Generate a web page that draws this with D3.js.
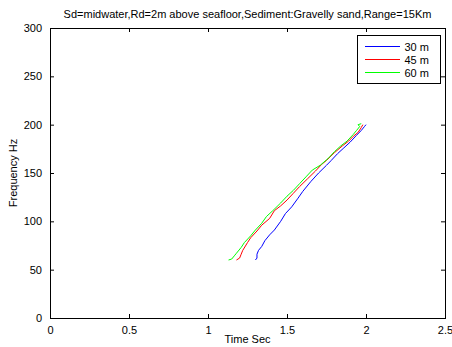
<!DOCTYPE html>
<html>
<head>
<meta charset="utf-8">
<script src="https://cdn.jsdelivr.net/npm/d3@7"></script>
<style>
  body { margin: 0; background: #fff; }
  svg { display: block; font-family: "Liberation Sans", Arial, sans-serif; }
</style>
</head>
<body>
<svg id="svg" width="452" height="347"></svg>
<script>
const title = 'Sd=midwater,Rd=2m above seafloor,Sediment:Gravelly sand,Range=15Km'
const xTicks = [0, 0.5, 1, 1.5, 2, 2.5]
const yTicks = [0, 50, 100, 150, 200, 250, 300]
const seriesNames = ['30 m', '45 m', '60 m']
const seriesColours = ['#0000ff', '#ff0000', '#00ff00']

// time (s), frequency (Hz)
const blue = [
  [1.30, 60], [1.31, 62], [1.31, 66], [1.32, 70], [1.34, 74], [1.36, 80],
  [1.39, 86], [1.42, 91], [1.46, 100], [1.49, 108], [1.53, 115], [1.57, 124],
  [1.60, 131], [1.65, 141], [1.70, 150], [1.75, 158], [1.78, 163], [1.82, 170],
  [1.86, 176], [1.90, 182], [1.94, 189], [1.97, 194], [1.99, 198], [2.00, 200]
]
const red = [
  [1.18, 60], [1.20, 62], [1.21, 66], [1.22, 70], [1.25, 78], [1.27, 83],
  [1.31, 90], [1.34, 96], [1.39, 103], [1.42, 111], [1.46, 116], [1.50, 122],
  [1.54, 129], [1.58, 136], [1.63, 144], [1.68, 152], [1.72, 159], [1.75, 163],
  [1.80, 171], [1.85, 178], [1.89, 183], [1.92, 188], [1.95, 192], [1.97, 197],
  [1.98, 200]
]
const green = [
  [1.13, 60], [1.15, 61], [1.17, 65], [1.18, 67], [1.21, 73], [1.23, 78],
  [1.27, 85], [1.30, 91], [1.34, 98], [1.37, 105], [1.41, 111], [1.46, 119],
  [1.50, 126], [1.54, 132], [1.58, 139], [1.62, 146], [1.66, 153], [1.71, 158],
  [1.76, 165], [1.80, 172], [1.84, 178], [1.88, 183], [1.92, 190], [1.94, 194],
  [1.96, 198], [1.95, 200], [1.97, 201]
]
const seriesData = [blue, red, green]

const margin = { left: 50, right: 7, top: 28, bottom: 29 }
const width = 452
const height = 347
const plotW = width - margin.left - margin.right
const plotH = height - margin.top - margin.bottom

const x = d3.scaleLinear().domain([0, 2.5]).range([margin.left, margin.left + plotW])
const y = d3.scaleLinear().domain([0, 300]).range([margin.top + plotH, margin.top])

const svg = d3.select('#svg')
const tickLen = 4
const fmt = d3.format('~g')

// box
svg.append('rect')
  .attr('x', x(0) + 0.5).attr('y', y(300) + 0.5)
  .attr('width', x(2.5) - x(0)).attr('height', y(0) - y(300))
  .attr('fill', 'none').attr('stroke', '#000').attr('stroke-width', 1)
  .attr('shape-rendering', 'crispEdges')

// inward ticks on all sides
const xAxisB = d3.axisBottom(x).tickValues(xTicks).tickSizeInner(-tickLen).tickSizeOuter(0).tickPadding(8).tickFormat(fmt)
const xAxisT = d3.axisTop(x).tickValues(xTicks).tickSizeInner(-tickLen).tickSizeOuter(0).tickFormat('')
const yAxisL = d3.axisLeft(y).tickValues(yTicks).tickSizeInner(-tickLen).tickSizeOuter(0).tickPadding(8).tickFormat(fmt)
const yAxisR = d3.axisRight(y).tickValues(yTicks).tickSizeInner(-tickLen).tickSizeOuter(0).tickFormat('')

const styleAxis = g => {
  g.select('.domain').remove()
  g.selectAll('line').attr('stroke', '#000')
  g.selectAll('text').attr('fill', '#000').style('font-size', '11px')
    .style('font-family', '"Liberation Sans", Arial, sans-serif')
}

svg.append('g').attr('transform', `translate(0,${y(0)})`).call(xAxisB).call(styleAxis)
svg.append('g').attr('transform', `translate(0,${y(300)})`).call(xAxisT).call(styleAxis)
svg.append('g').attr('transform', `translate(${x(0)},0)`).call(yAxisL).call(styleAxis)
svg.append('g').attr('transform', `translate(${x(2.5)},0)`).call(yAxisR).call(styleAxis)

// lines
const line = d3.line().x(d => x(d[0])).y(d => y(d[1]))
svg.selectAll('path.series')
  .data(seriesData)
  .join('path')
  .attr('class', 'series')
  .attr('d', line)
  .attr('fill', 'none')
  .attr('stroke', (d, i) => seriesColours[i])
  .attr('stroke-width', 1)

// title and labels
svg.append('text')
  .attr('x', (x(0) + x(2.5)) / 2).attr('y', 18)
  .attr('text-anchor', 'middle')
  .style('font-size', '11px')
  .text(title)

svg.append('text')
  .attr('x', (x(0) + x(2.5)) / 2).attr('y', 343)
  .attr('text-anchor', 'middle')
  .style('font-size', '11px')
  .text('Time Sec')

svg.append('text')
  .attr('transform', `translate(17,${(y(0) + y(300)) / 2}) rotate(-90)`)
  .attr('text-anchor', 'middle')
  .style('font-size', '11px')
  .text('Frequency Hz')

// legend
const legend = svg.append('g').attr('transform', 'translate(357.5,35.5)')
legend.append('rect')
  .attr('width', 83).attr('height', 48)
  .attr('fill', '#fff').attr('stroke', '#000').attr('stroke-width', 1)

const rows = legend.selectAll('g.row')
  .data(seriesNames)
  .join('g')
  .attr('class', 'row')
  .attr('transform', (d, i) => `translate(0,${11 + i * 13})`)

rows.append('line')
  .attr('x1', 7).attr('x2', 42)
  .attr('stroke', (d, i) => seriesColours[i])
  .attr('stroke-width', 1)
  .attr('shape-rendering', 'crispEdges')

rows.append('text')
  .attr('x', 47).attr('y', 4)
  .style('font-size', '11px')
  .text(d => d)
</script>
</body>
</html>
